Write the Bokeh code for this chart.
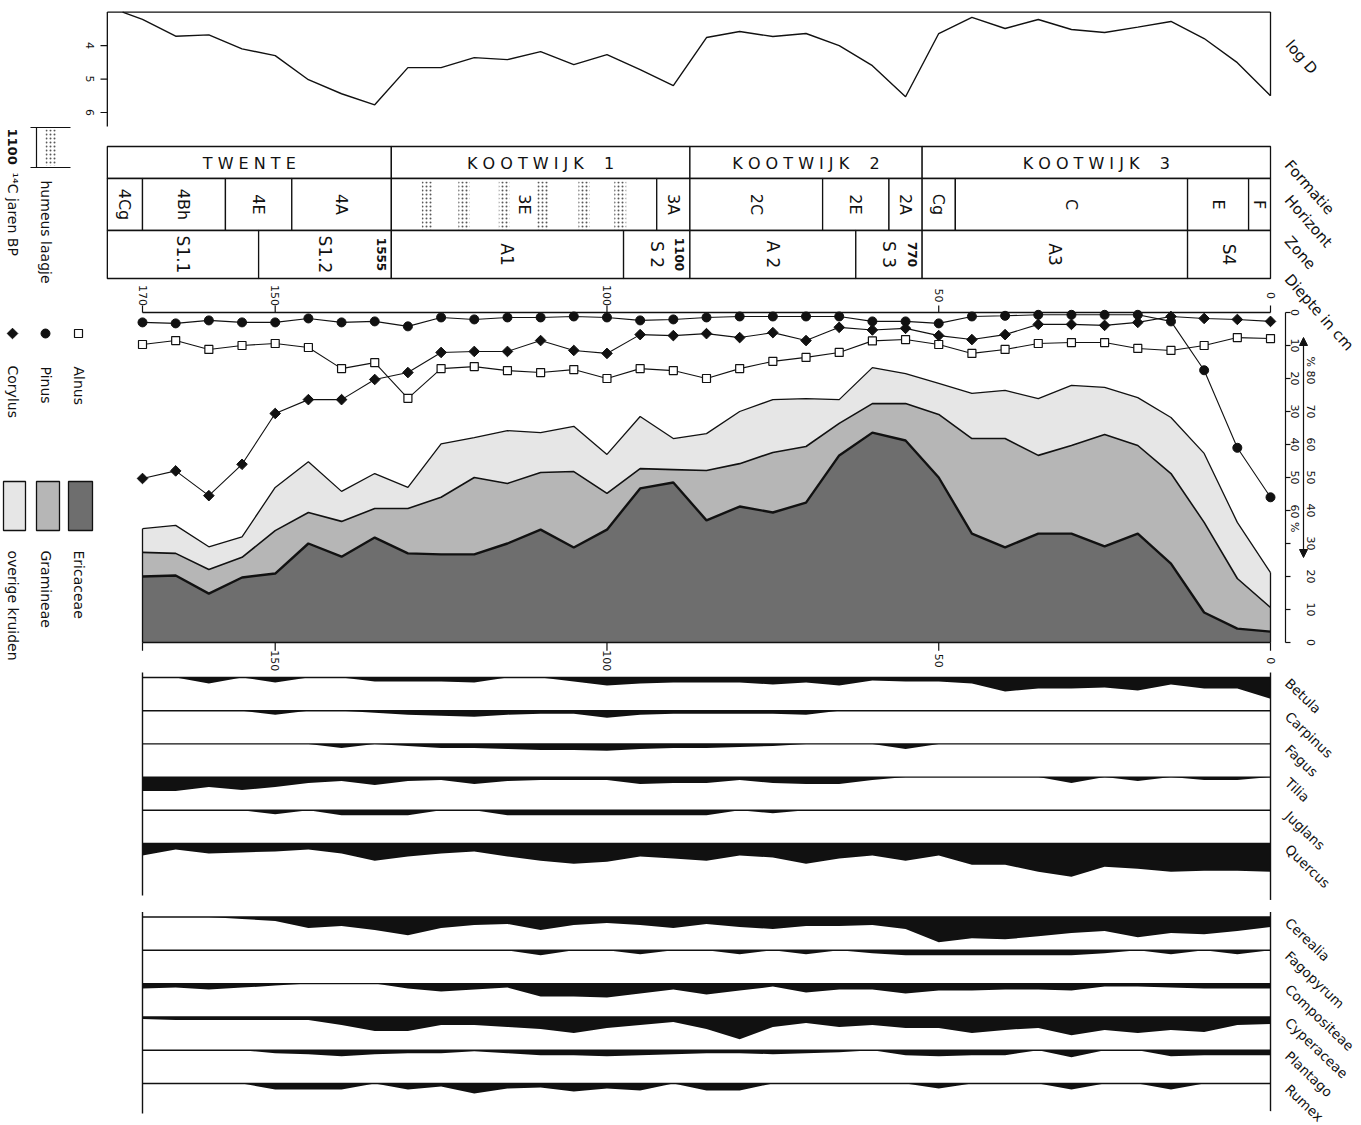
import math
from bokeh.plotting import figure
from bokeh.models import Range1d, Arrow, NormalHead
from bokeh.core.properties import value
from bokeh.embed import file_html
from bokeh.resources import INLINE

# ---------------- data ----------------
depths = [170, 165, 160, 155, 150, 145, 140, 135, 130, 125, 120, 115, 110, 105, 100,
          95, 90, 85, 80, 75, 70, 65, 60, 55, 50, 45, 40, 35, 30, 25, 20, 15, 10, 5, 0]

alnus = [9.7, 8.5, 11.2, 10.0, 9.4, 10.6, 17.0, 15.2, 26.0, 17.0,
         16.4, 17.6, 18.2, 17.3, 20.0, 17.0, 17.6, 20.0, 17.0, 14.8,
         13.6, 12.1, 8.6, 8.2, 9.7, 12.4, 11.2, 9.4, 9.1, 9.1,
         10.9, 11.5, 10.0, 7.6, 7.9]
pinus = [3.0, 3.3, 2.4, 3.0, 3.0, 1.8, 3.0, 2.7, 4.2, 1.5,
         2.1, 1.5, 1.5, 1.2, 1.5, 2.4, 2.1, 1.5, 1.2, 1.2,
         1.2, 1.2, 2.7, 2.7, 3.3, 1.2, 1.0, 0.7, 0.7, 0.7,
         0.7, 2.7, 17.5, 41.0, 56.0]
corylus = [50.3, 48.0, 55.5, 46.0, 30.6, 26.4, 26.4, 20.3, 18.2, 12.1,
           11.8, 11.8, 8.5, 11.5, 12.4, 6.7, 7.0, 6.4, 7.6, 6.1,
           8.5, 4.5, 5.3, 4.8, 7.0, 8.2, 6.7, 3.6, 3.6, 3.9,
           3.0, 1.2, 1.8, 2.1, 2.7]

ericaceae = [20.0, 20.3, 14.8, 19.7, 20.9, 30.0, 26.0, 31.8, 27.0, 26.7,
             26.7, 30.0, 34.2, 28.8, 34.2, 46.7, 48.5, 37.0, 41.2, 39.4,
             42.4, 56.7, 63.6, 61.2, 50.0, 33.0, 28.8, 33.0, 33.0, 29.1,
             33.0, 23.9, 9.1, 4.2, 3.3]
gramineae = [7.3, 6.7, 7.3, 6.1, 13.0, 9.4, 10.7, 8.8, 13.6, 17.3,
             23.3, 18.2, 17.3, 23.0, 11.0, 6.0, 3.9, 15.1, 13.0, 18.2,
             17.0, 9.7, 8.8, 11.2, 19.1, 28.8, 33.0, 23.7, 26.7, 33.9,
             26.7, 27.3, 27.3, 15.2, 7.3]
overige_kruiden = [7.2, 8.5, 6.9, 6.2, 13.1, 15.4, 9.1, 10.6, 6.4, 16.2,
                   12.1, 16.0, 12.1, 13.7, 11.8, 15.8, 9.4, 11.2, 15.8, 16.0,
                   14.5, 7.2, 10.9, 9.1, 9.4, 13.7, 14.6, 17.2, 18.2, 14.3,
                   14.5, 17.0, 20.9, 17.0, 10.6]

logd_depths = [173, 170, 165, 160, 155, 150, 145, 140, 135, 130, 125, 120, 115, 110, 105, 100,
               95, 90, 85, 80, 75, 70, 65, 60, 55, 50, 45, 40, 35, 30, 25, 20, 15, 10, 5, 0]
log_d = [3.0, 3.22, 3.72, 3.68, 4.1, 4.3, 5.02, 5.44, 5.77, 4.66, 4.66, 4.36, 4.42, 4.18,
         4.57, 4.27, 4.72, 5.2, 3.76, 3.58, 3.73, 3.64, 4.0, 4.6, 5.53, 3.64, 3.16, 3.49,
         3.22, 3.52, 3.61, 3.45, 3.28, 3.79, 4.51, 5.5]

tree_taxa = ["Betula", "Carpinus", "Fagus", "Tilia", "Juglans", "Quercus"]
betula = [0, 0, 1.8, 0, 1.5, 0, 0, 1.2, 1.2, 1.2, 1.5, 0, 0, 1.2, 2.4, 1.8, 1.5, 1.5, 1.5, 2.1,
          1.5, 2.4, 0.9, 1.2, 1.2, 1.8, 4.2, 3.3, 3.3, 3.0, 3.9, 2.1, 3.3, 3.3, 6.4]
carpinus = [0, 0, 0, 0, 1.2, 0, 0, 0.6, 1.2, 1.5, 1.8, 1.2, 0.9, 0.9, 2.1, 1.2, 0.9, 0.9, 0.9, 0.9,
            1.2, 0, 0, 0, 0, 0, 0, 0, 0, 0, 0, 0, 0, 0, 0]
fagus = [0, 0, 0, 0, 0, 0, 1.2, 0, 0.6, 1.2, 1.2, 1.5, 1.8, 1.8, 2.1, 1.5, 1.2, 1.2, 0.9, 0.6,
         0, 0, 0, 1.5, 0, 0, 0, 0, 0, 0, 0, 0, 0, 0, 0]
tilia = [4.2, 4.2, 3.0, 3.9, 3.0, 1.8, 1.2, 2.4, 1.2, 0.9, 2.1, 1.2, 0.9, 0.9, 0.9, 2.1, 1.8, 1.8, 0.9, 1.8,
         2.1, 2.1, 0.9, 0, 0, 0, 0, 0, 1.8, 0, 1.2, 0, 0.9, 0.9, 0]
juglans = [0, 0, 0, 0, 1.2, 0, 1.5, 1.5, 1.5, 0, 0, 1.5, 1.5, 1.5, 1.5, 1.5, 1.5, 1.5, 0, 0.9,
           0, 0, 0, 0, 0, 0, 0, 0, 0, 0, 0, 0, 0, 0, 0]
quercus = [3.6, 1.8, 3.0, 2.7, 2.4, 1.8, 3.0, 5.2, 3.9, 3.0, 2.4, 3.9, 5.2, 6.1, 5.5, 3.9, 4.5, 5.2, 3.6, 4.2,
           6.1, 4.5, 3.6, 5.2, 3.6, 6.4, 6.4, 8.5, 10.0, 7.0, 7.6, 8.5, 8.2, 8.2, 8.5]

herb_taxa = ["Cerealia", "Fagopyrum", "Compositeae", "Cyperaceae", "Plantago", "Rumex"]
cerealia = [0, 0, 0, 0.6, 1.2, 3.3, 2.7, 3.9, 5.5, 3.3, 2.4, 2.1, 3.9, 2.4, 1.8, 2.4, 3.3, 2.1, 3.0, 3.6,
            2.7, 2.7, 2.4, 3.6, 7.6, 6.4, 6.7, 5.8, 4.8, 4.2, 6.1, 4.8, 5.2, 4.2, 3.0]
fagopyrum = [0, 0, 0, 0, 0, 0, 0, 0, 0, 0, 0, 0, 1.5, 0, 0, 1.2, 0, 0, 1.2, 0,
             1.2, 0, 0.9, 1.5, 1.5, 1.5, 1.5, 1.5, 1.5, 0.9, 0, 1.2, 0, 1.2, 0]
compositeae = [1.5, 1.2, 1.8, 1.2, 0.6, 0, 0, 0, 1.5, 2.4, 1.8, 1.2, 3.9, 3.9, 4.2, 3.0, 1.8, 3.3, 2.1, 0.9,
               2.7, 1.8, 1.8, 3.0, 2.1, 2.1, 1.8, 1.8, 2.1, 0.9, 0.9, 1.2, 1.5, 1.5, 1.5]
cyperaceae = [0.6, 0.9, 0.9, 0.9, 0.9, 0.9, 2.4, 4.2, 4.2, 2.4, 2.4, 3.0, 3.6, 4.8, 3.3, 2.4, 1.5, 3.6, 6.7, 3.0,
              1.8, 3.0, 2.4, 3.3, 3.3, 4.8, 3.9, 3.3, 5.5, 3.9, 4.8, 3.9, 4.5, 2.4, 2.1]
plantago = [0, 0, 0, 0, 0.9, 1.2, 1.8, 1.2, 0.9, 0.9, 0.3, 0.9, 1.5, 1.5, 1.8, 1.5, 1.2, 0.9, 0.9, 1.2,
            0.9, 0.6, 0, 1.5, 1.8, 1.5, 1.5, 0, 2.1, 0, 0, 1.8, 1.5, 1.5, 1.5]
rumex = [0, 0, 0, 0, 1.8, 1.8, 1.8, 0, 1.8, 0.9, 3.0, 1.5, 1.2, 2.4, 1.5, 2.1, 0, 2.1, 2.1, 0,
         0, 0, 0, 0, 1.5, 0, 0, 0, 1.8, 0, 0, 1.8, 0, 0, 0]

NB = "\u00a0"
formatie_names = ["T W E N T E", "K O O T W I J K" + NB * 4 + "1",
                  "K O O T W I J K" + NB * 4 + "2", "K O O T W I J K" + NB * 4 + "3"]
formatie_bounds = [175.3, 132.5, 87.5, 52.5, 0]
horizont_names = ["4Cg", "4Bh", "4E", "4A", "3E", "3A", "2C", "2E", "2A", "Cg", "C", "E", "F"]
horizont_bounds = [175.3, 170, 157.5, 147.5, 132.5, 92.5, 87.5, 67.5, 57.5, 52.5, 47.5, 12.5, 3.3, 0]
zone_names = ["S1.1", "S1.2", "A1", "S 2", "A 2", "S 3", "A3", "S4"]
zone_bounds = [175.3, 152.5, 132.5, 97.5, 87.5, 62.5, 52.5, 12.5, 0]
c14_dates = ["1555", "1100", "770"]
c14_depths = [132.5, 87.5, 52.5]
humus_from = [127.9, 122.4, 116.3, 110.5, 104.3, 98.9]
humus_to = [126.3, 120.7, 114.7, 108.8, 102.6, 97.1]

depth_ticks_top = [170, 150, 100, 50, 0]
depth_ticks_bottom = [150, 100, 50, 0]
logd_ticks = [4, 5, 6]
tree_pct_ticks = [0, 10, 20, 30, 40, 50, 60]
tree_pct_labels = ["0", "10", "20", "30", "40", "50", "60 %"]
herb_pct_ticks = [80, 70, 60, 50, 40, 30, 20, 10, 0]
herb_pct_labels = ["% 80", "70", "60", "50", "40", "30", "20", "10", "0"]
all_pct_ticks = [0, 10, 20, 30, 40, 50, 60, 70, 80, 90, 100]

# ---------------- layout ----------------
W, H = 1360, 1124
PX0, PY0 = 0, 0
CM = 1128.0 / 170.0          # screen px per cm depth
X170 = 142                   # page x of depth 170
x_start = 170 + (X170 - PX0) / CM
x_end = 170 - (PX0 + W - X170) / CM


def yr(va, pa, vb, pb):
    b = (pb - pa) / (vb - va)
    a = pa - b * va
    return Range1d(start=(PY0 + H - a) / b, end=(PY0 - a) / b)


p = figure(width=W, height=H, x_range=Range1d(x_start, x_end), y_range=Range1d(PY0 + H, PY0),
           min_border=0, toolbar_location=None, output_backend="svg",
           x_axis_type=None, y_axis_type=None, title=None)
p.outline_line_color = None
p.background_fill_color = "white"
p.border_fill_color = "white"
p.extra_x_ranges = {"px": Range1d(PX0, PX0 + W)}
p.extra_y_ranges = {
    "logd": yr(3, 11.6, 6, 112),
    "pct": yr(0, 642, 100, 312),
    "tree": yr(0, 312, 100, 642),
    "silt": yr(0, 677, 10, 710.2),
    "silh": yr(0, 916.5, 10, 949.8),
}

FONT = value("DejaVu Sans")
K = "#111111"
ERIC = "#6e6e6e"
GRAM = "#b6b6b6"
OVER = "#e6e6e6"
ROT = -math.pi / 2


def txt(x, y, s, size=13, angle=0.0, align="center", baseline="middle", style="normal",
        xr="default", yrn="default"):
    xs = x if isinstance(x, list) else [x]
    ys = y if isinstance(y, list) else [y]
    ss = s if isinstance(s, list) else [s]
    p.text(x=xs, y=ys, text=ss, angle=angle, text_font=FONT, text_font_size=f"{size}px",
           text_align=align, text_baseline=baseline, text_font_style=style, text_color=K,
           x_range_name=xr, y_range_name=yrn)


# ---------------- log D panel ----------------
xl = formatie_bounds[0]
p.segment(x0=[xl], y0=[3], x1=[0], y1=[3], line_color=K, line_width=1.3, y_range_name="logd")
p.segment(x0=[xl], y0=[3], x1=[xl], y1=[6.42], line_color=K, line_width=1.3, y_range_name="logd")
p.segment(x0=[0], y0=[3], x1=[0], y1=[log_d[-1]], line_color=K, line_width=1.3, y_range_name="logd")
p.segment(x0=[100] * 3, y0=logd_ticks, x1=[107] * 3, y1=logd_ticks, line_color=K, line_width=1.2,
          x_range_name="px", y_range_name="logd")
txt([89] * 3, logd_ticks, [str(t) for t in logd_ticks], size=11, angle=ROT, xr="px", yrn="logd")
p.line(logd_depths, log_d, line_color=K, line_width=1.4, y_range_name="logd")

# ---------------- stratigraphic table ----------------
rows = [(146, 178), (178, 230), (230, 278)]
for (names, bounds), (top, bot) in zip([(formatie_names, formatie_bounds),
                                        (horizont_names, horizont_bounds),
                                        (zone_names, zone_bounds)], rows):
    p.quad(left=bounds[:-1], right=bounds[1:], top=[top] * len(names), bottom=[bot] * len(names),
           fill_color="white", line_color=K, line_width=1.3)
p.quad(left=humus_from, right=humus_to, top=[181] * 6, bottom=[229] * 6,
       fill_color="white", fill_alpha=0, line_color=None,
       hatch_pattern="dot", hatch_color=K, hatch_scale=4, hatch_weight=1.0, hatch_alpha=0.7)

fc = [(a + b) / 2 for a, b in zip(formatie_bounds[:-1], formatie_bounds[1:])]
txt(fc, [163] * 4, formatie_names, size=16)
hc = [(a + b) / 2 for a, b in zip(horizont_bounds[:-1], horizont_bounds[1:])]
txt(hc, [204] * len(hc), horizont_names, size=16, angle=ROT)
zc = [(a + b) / 2 for a, b in zip(zone_bounds[:-1], zone_bounds[1:])]
txt(zc, [254] * len(zc), zone_names, size=17, angle=ROT)
txt([d + 1.5 for d in c14_depths], [254] * 3, c14_dates, size=12, angle=ROT, style="bold")

# ---------------- depth ruler (top of main panel) ----------------
p.segment(x0=depth_ticks_top, y0=[305] * 5, x1=depth_ticks_top, y1=[312] * 5, line_color=K, line_width=1.2)
txt(depth_ticks_top, [295] * 5, [str(t) for t in depth_ticks_top], size=11, angle=ROT)

# ---------------- main panel ----------------
cum1 = ericaceae
cum2 = [a + b for a, b in zip(ericaceae, gramineae)]
cum3 = [a + b for a, b in zip(cum2, overige_kruiden)]
zeros = [0] * len(depths)
p.varea(x=depths, y1=cum2, y2=cum3, fill_color=OVER, y_range_name="pct")
p.varea(x=depths, y1=cum1, y2=cum2, fill_color=GRAM, y_range_name="pct")
p.varea(x=depths, y1=zeros, y2=cum1, fill_color=ERIC, y_range_name="pct")
p.line(depths, cum3, line_color=K, line_width=1.3, y_range_name="pct")
p.line(depths, cum2, line_color=K, line_width=1.6, y_range_name="pct")
p.line(depths, cum1, line_color=K, line_width=2.4, y_range_name="pct")
p.segment(x0=[depths[0], depths[-1]], y0=[0, 0], x1=[depths[0], depths[-1]], y1=[cum3[0], cum3[-1]],
          line_color=K, line_width=1.3, y_range_name="pct")
p.segment(x0=[depths[0]], y0=[0], x1=[depths[-1]], y1=[0], line_color=K, line_width=1.5, y_range_name="tree")
p.segment(x0=[depths[0]], y0=[0], x1=[depths[-1]], y1=[0], line_color=K, line_width=1.5, y_range_name="pct")

# tree pollen curves (measured from the top)
p.line(depths, alnus, line_color=K, line_width=1.1, y_range_name="tree")
p.line(depths, pinus, line_color=K, line_width=1.1, y_range_name="tree")
p.line(depths, corylus, line_color=K, line_width=1.1, y_range_name="tree")
p.scatter(depths, alnus, marker="square", size=8, fill_color="white", line_color=K, line_width=1.2,
          y_range_name="tree")
p.scatter(depths, pinus, marker="circle", size=9, fill_color=K, line_color=K, y_range_name="tree")
p.scatter(depths, corylus, marker="square", angle=math.pi / 4, size=7.5, fill_color=K, line_color=K,
          y_range_name="tree")

# bottom depth axis
p.segment(x0=[170] + depth_ticks_bottom, y0=[0] * 5, x1=[170] + depth_ticks_bottom, y1=[-2.5] * 5,
          line_color=K, line_width=1.2, y_range_name="pct")
txt(depth_ticks_bottom, [-5.5] * 4, [str(t) for t in depth_ticks_bottom], size=11, angle=ROT,
    yrn="pct")

# right % axis
p.segment(x0=[1285], y0=[0], x1=[1285], y1=[100], line_color=K, line_width=1.2,
          x_range_name="px", y_range_name="pct")
p.segment(x0=[1285] * 11, y0=all_pct_ticks, x1=[1290] * 11, y1=all_pct_ticks, line_color=K,
          line_width=1.2, x_range_name="px", y_range_name="pct")
for t, lab in zip(tree_pct_ticks, tree_pct_labels):
    if "%" in lab:
        txt(1294, t - 1.8, lab, size=11, angle=ROT, align="left", xr="px", yrn="tree")
    else:
        txt(1294, t, lab, size=11, angle=ROT, xr="px", yrn="tree")
for t, lab in zip(herb_pct_ticks, herb_pct_labels):
    if "%" in lab:
        txt(1310, t - 1.8, lab, size=11, angle=ROT, align="right", xr="px", yrn="pct")
    else:
        txt(1310, t, lab, size=11, angle=ROT, xr="px", yrn="pct")
p.add_layout(Arrow(x_start=1303, y_start=557, x_end=1303, y_end=337,
                   start=NormalHead(size=8, fill_color=K, line_color=K),
                   end=NormalHead(size=8, fill_color=K, line_color=K),
                   line_color=K, line_width=1.2, x_range_name="px"))


# ---------------- silhouettes ----------------
def silhouettes(series, names, rng, bottom_left, bottom_right):
    for i, (vals, name) in enumerate(zip(series, names)):
        off = i * 10
        p.varea(x=depths, y1=[off] * len(depths), y2=[off + v for v in vals], fill_color=K,
                y_range_name=rng)
        p.segment(x0=[depths[0]], y0=[off], x1=[depths[-1]], y1=[off], line_color=K,
                  line_width=1.4, y_range_name=rng)
        txt(1287, off + 1.0, name, size=13.5, angle=-0.76, align="left", xr="px", yrn=rng)
    p.segment(x0=[depths[0], depths[-1]], y0=[-1.5, -1.5], x1=[depths[0], depths[-1]],
              y1=[bottom_left, bottom_right], line_color=K, line_width=1.4, y_range_name=rng)


silhouettes([betula, carpinus, fagus, tilia, juglans, quercus], tree_taxa, "silt", 65.7, 67.0)
silhouettes([cerealia, fagopyrum, compositeae, cyperaceae, plantago, rumex], herb_taxa, "silh", 59.0, 58.3)

# ---------------- right-hand panel labels ----------------
txt(1288, 42, "log D", size=15, angle=-0.85, align="left", xr="px")
txt(1287, 162, "Formatie", size=15, angle=-0.85, align="left", xr="px")
txt(1287, 197, "Horizont", size=15, angle=-0.85, align="left", xr="px")
txt(1287, 238, "Zone", size=15, angle=-0.85, align="left", xr="px")
txt(1287, 276, "Diepte in cm", size=15, angle=-0.85, align="left", xr="px")

# ---------------- left legend ----------------
p.segment(x0=[30, 30, 36], y0=[127, 167, 127], x1=[70, 70, 36], y1=[127, 167, 167], line_color=K,
          line_width=1.2, x_range_name="px")
p.quad(left=[45], right=[56], top=[129], bottom=[165], fill_color="white", fill_alpha=0,
       line_color=None, hatch_pattern="dot", hatch_color=K, hatch_scale=4, hatch_weight=1.0,
       hatch_alpha=0.7, x_range_name="px")
txt(12, 128, "1100", size=13, angle=ROT, align="left", style="bold", xr="px")
txt(12, 172, "¹⁴C jaren BP", size=14, angle=ROT, align="left", xr="px")
txt(45, 180, "humeus laagje", size=14, angle=ROT, align="left", xr="px")

p.scatter([78], [333], marker="square", size=8, fill_color="white", line_color=K, line_width=1.2,
          x_range_name="px")
p.scatter([45], [333], marker="circle", size=9, fill_color=K, line_color=K, x_range_name="px")
p.scatter([12], [333], marker="square", angle=math.pi / 4, size=7.5, fill_color=K, line_color=K,
          x_range_name="px")
txt(78, 366, "Alnus", size=14, angle=ROT, align="left", xr="px")
txt(45, 366, "Pinus", size=14, angle=ROT, align="left", xr="px")
txt(12, 365, "Corylus", size=14, angle=ROT, align="left", xr="px")

p.quad(left=[68, 36, 3], right=[92, 59, 25], top=[481] * 3, bottom=[530] * 3,
       fill_color=[ERIC, GRAM, OVER], line_color=K, line_width=1.3, x_range_name="px")
txt(78, 550, "Ericaceae", size=14, angle=ROT, align="left", xr="px")
txt(45, 550, "Gramineae", size=14, angle=ROT, align="left", xr="px")
txt(12, 550, "overige kruiden", size=14, angle=ROT, align="left", xr="px")

open("out.html", "w").write(file_html(p, INLINE))
